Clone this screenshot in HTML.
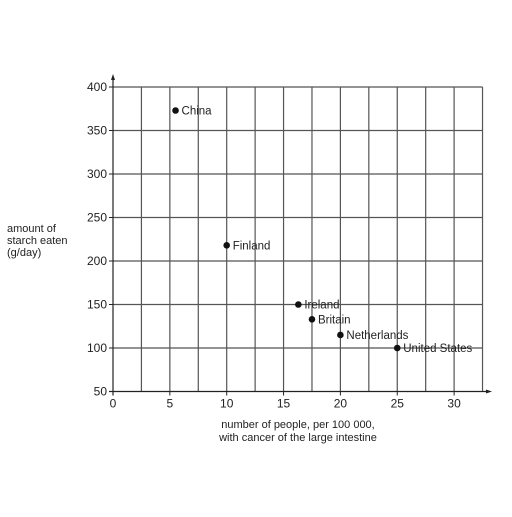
<!DOCTYPE html>
<html><head><meta charset="utf-8"><style>
body{margin:0;background:#fff;width:512px;height:512px;overflow:hidden}
text{font-family:"Liberation Sans",sans-serif;fill:#222}
</style></head><body>
<svg id="c" width="512" height="512" xmlns="http://www.w3.org/2000/svg"></svg>
<script>
const countries=["China","Finland","Ireland","Britain","Netherlands","United States"];
const cancerRates=[5.5,10,16.3,17.5,20,25];
const starch=[373,218,150,133,115,100];
const xTicks=[0,5,10,15,20,25,30];
const yTicks=[50,100,150,200,250,300,350,400];
const svg=document.getElementById('c');
const NS="http://www.w3.org/2000/svg";
const X=v=>113+v*11.37, Y=v=>87+(400-v)*0.87;
function el(t,a,p){const e=document.createElementNS(NS,t);for(const k in a)e.setAttribute(k,a[k]);(p||svg).appendChild(e);return e;}
const g=el('g',{});


for(let v=2.5;v<=32.5;v+=2.5)el('line',{x1:X(v),x2:X(v),y1:Y(400),y2:Y(50),stroke:'#555','stroke-width':1.2},g);
for(let v=100;v<=400;v+=50)el('line',{x1:X(0),x2:X(32.5),y1:Y(v),y2:Y(v),stroke:'#555','stroke-width':1.2},g);
const ax=el('g',{});


el('line',{x1:X(0),x2:X(0),y1:Y(50)+4,y2:78,stroke:'#222','stroke-width':1.2},ax);
el('polygon',{points:`${X(0)-2},80 ${X(0)+2},80 ${X(0)},74`,fill:'#222'},ax);
el('line',{x1:X(0)-4,x2:488,y1:Y(50),y2:Y(50),stroke:'#222','stroke-width':1.2},ax);
el('polygon',{points:`486,${Y(50)-2} 486,${Y(50)+2} 492,${Y(50)}`,fill:'#222'},ax);
xTicks.forEach(v=>{el('line',{x1:X(v),x2:X(v),y1:Y(50),y2:Y(50)+4,stroke:'#222'},ax);const t=el('text',{x:X(v),y:Y(50)+16,'text-anchor':'middle','font-size':12},ax);t.textContent=v;});
yTicks.forEach(v=>{el('line',{x1:X(0)-4,x2:X(0),y1:Y(v),y2:Y(v),stroke:'#222'},ax);const t=el('text',{x:X(0)-6,y:Y(v)+4,'text-anchor':'end','font-size':12},ax);t.textContent=v;});
countries.forEach((c,i)=>{
 const p=el('circle',{cx:X(cancerRates[i]),cy:Y(starch[i]),r:3.3,fill:'#111'});
 
 
 const t=el('text',{x:X(cancerRates[i])+6,y:Y(starch[i])+4,'font-size':11.5});
 t.textContent=c;
 
 
});
[["amount of",232],["starch eaten",244],["(g/day)",256]].forEach(([s,y])=>{const t=el('text',{x:7,y:y,'font-size':11});t.textContent=s;});
[["number of people, per 100 000,",428],["with cancer of the large intestine",441]].forEach(([s,y])=>{const t=el('text',{x:298,y:y,'font-size':11,'text-anchor':'middle'});t.textContent=s;});
</script>
</body></html>
